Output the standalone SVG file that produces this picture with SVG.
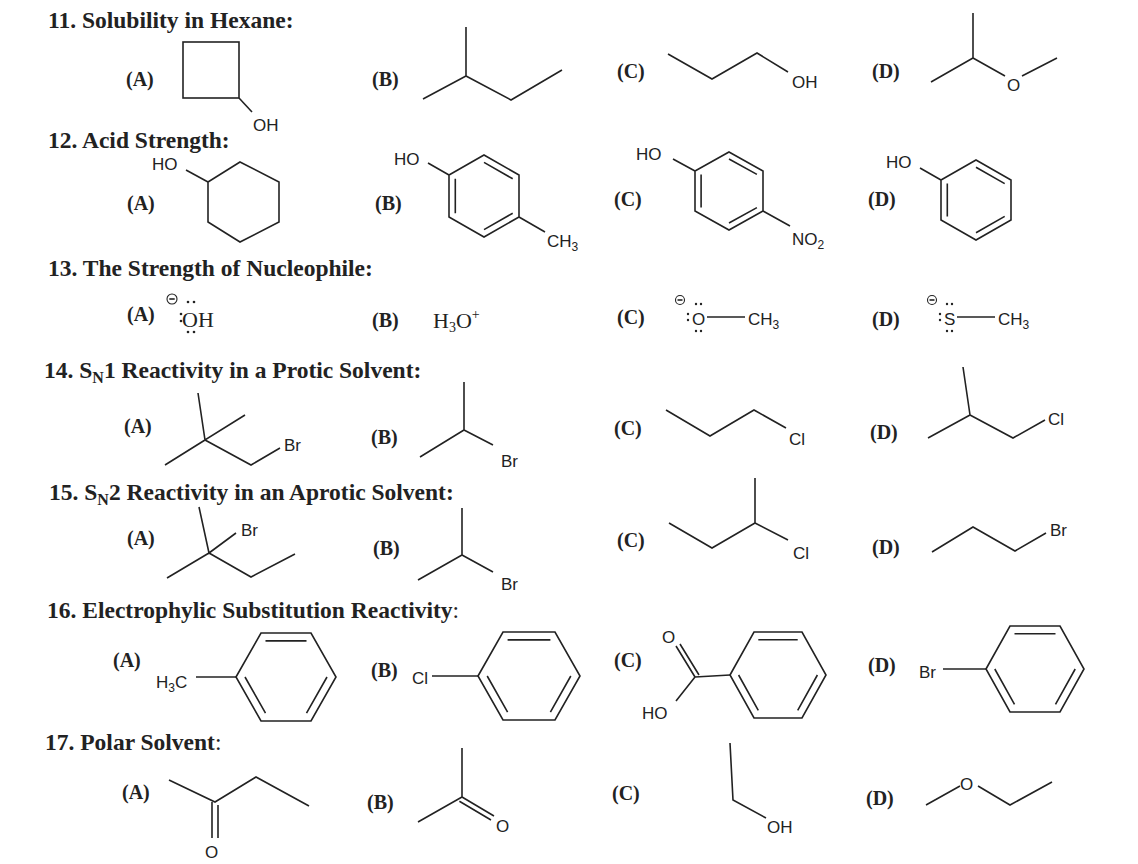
<svg xmlns="http://www.w3.org/2000/svg" width="1138" height="864" viewBox="0 0 1138 864">
<style>
.h{font-family:"Liberation Serif",serif;font-weight:bold;font-size:23.5px;fill:#222}
.l{font-family:"Liberation Serif",serif;font-weight:bold;font-size:20px;fill:#222}
.a{font-family:"Liberation Sans",Arial,sans-serif;font-size:17px;fill:#222}
.s{font-family:"Liberation Serif",serif;font-size:22px;fill:#222}
path,polygon,line{fill:none;stroke:#222;stroke-width:1.6}
.d{fill:#222;stroke:none}
.m{fill:none;stroke:#222;stroke-width:1.1}
</style>
<rect width="1138" height="864" fill="#fff"/>
<text class="h" x="48" y="28">11. Solubility in Hexane:</text>
<text class="h" x="48" y="148">12. Acid Strength:</text>
<text class="h" x="48" y="276">13. The Strength of Nucleophile:</text>
<text class="h" x="44" y="378">14. S<tspan font-size="16" dy="5">N</tspan><tspan dy="-5">1 Reactivity in a Protic Solvent:</tspan></text>
<text class="h" x="49" y="500">15. S<tspan font-size="16" dy="5">N</tspan><tspan dy="-5">2 Reactivity in an Aprotic Solvent:</tspan></text>
<text class="h" x="47" y="618">16. Electrophylic Substitution Reactivity<tspan font-weight="normal">:</tspan></text>
<text class="h" x="45" y="750">17. Polar Solvent<tspan font-weight="normal">:</tspan></text>

<!-- Q11 -->
<g id="q11a"><text class="l" x="126" y="86">(A)</text><rect x="183" y="42" width="56" height="56" fill="none" stroke="#222" stroke-width="1.6"/><path d="M239 98L252 112"/><text class="a" x="253" y="131">OH</text></g>
<g id="q11b"><text class="l" x="372" y="86">(B)</text><path d="M423 99L466 76L466 27M466 76L511 100L562 70"/></g>
<g id="q11c"><text class="l" x="617" y="78">(C)</text><path d="M668 54L712 79L757 53L788 72"/><text class="a" x="792" y="88">OH</text></g>
<g id="q11d"><text class="l" x="872" y="78">(D)</text><path d="M931 82L973 58L973 13M973 58L1005 76M1022 76L1057 58"/><text class="a" x="1007" y="91">O</text></g>

<!-- Q12 -->
<g id="q12a"><text class="l" x="127" y="210">(A)</text><polygon points="240,162 279,182 279,222 240,242 208,222 208,182"/><path d="M208 182L186 170"/><text class="a" x="152" y="170">HO</text></g>
<g id="q12b"><text class="l" x="375" y="210">(B)</text><polygon points="484,155 519,175 519,217 484,237 449,217 449,175"/><path d="M455.3 213.2L455.3 178.8M484 162.4L512.7 178.8M512.7 213.2L484 229.6M449 175L428 163"/><path d="M519 217L545 232"/><text class="a" x="394" y="165">HO</text><text class="a" x="547" y="247">CH<tspan font-size="12" dy="4">3</tspan></text></g>
<g id="q12c"><text class="l" x="614" y="206">(C)</text><polygon points="729,152 763,171 763,211 729,230 695,211 695,171"/><path d="M701.1 207.6L701.1 174.6M729 159L756.9 174.4M756.9 207.6L729 223M695 171L673 159M763 211L790 226"/><text class="a" x="636" y="160">HO</text><text class="a" x="792" y="245">NO<tspan font-size="12" dy="4">2</tspan></text></g>
<g id="q12d"><text class="l" x="868" y="206">(D)</text><polygon points="976,160 1011,180 1011,220 976,240 941,220 941,180"/><path d="M947.3 216.4L947.3 183.6M976 167.2L1004.7 183.6M1004.7 216.4L976 232.8M941 180L920 168"/><text class="a" x="886" y="168">HO</text></g>

<!-- Q13 -->
<g id="q13a"><text class="l" x="127" y="321">(A)</text><circle class="m" cx="172" cy="299" r="5"/><path d="M169.3 299H174.7" stroke-width="1.1"/><circle class="d" cx="181" cy="314" r="1.3"/><circle class="d" cx="181" cy="321" r="1.3"/><circle class="d" cx="188" cy="302" r="1.3"/><circle class="d" cx="194" cy="302" r="1.3"/><circle class="d" cx="188" cy="332" r="1.3"/><circle class="d" cx="194" cy="332" r="1.3"/><text class="s" x="182" y="327">OH</text></g>
<g id="q13b"><text class="l" x="372" y="327">(B)</text><text class="s" x="433" y="328">H<tspan font-size="14" dy="4">3</tspan><tspan dy="-4">O</tspan><tspan font-size="14" dy="-9">+</tspan></text></g>
<g id="q13c"><text class="l" x="617" y="324">(C)</text><circle class="m" cx="680" cy="300" r="4.5"/><path d="M677.5 300H682.5" stroke-width="1.1"/><circle class="d" cx="688" cy="314" r="1.2"/><circle class="d" cx="688" cy="320" r="1.2"/><circle class="d" cx="696" cy="304" r="1.2"/><circle class="d" cx="701" cy="304" r="1.2"/><circle class="d" cx="696" cy="331" r="1.2"/><circle class="d" cx="701" cy="331" r="1.2"/><text class="a" x="692" y="325">O</text><path d="M707 317H745"/><text class="a" x="748" y="325">CH<tspan font-size="12" dy="4">3</tspan></text></g>
<g id="q13d"><text class="l" x="872" y="326">(D)</text><circle class="m" cx="932" cy="300" r="4.5"/><path d="M929.5 300H934.5" stroke-width="1.1"/><circle class="d" cx="940" cy="314" r="1.2"/><circle class="d" cx="940" cy="320" r="1.2"/><circle class="d" cx="947" cy="304" r="1.2"/><circle class="d" cx="952" cy="304" r="1.2"/><circle class="d" cx="947" cy="331" r="1.2"/><circle class="d" cx="952" cy="331" r="1.2"/><text class="a" x="944" y="325">S</text><path d="M957 317H995"/><text class="a" x="998" y="325">CH<tspan font-size="12" dy="4">3</tspan></text></g>

<!-- Q14 -->
<g id="q14a"><text class="l" x="124" y="433">(A)</text><path d="M198 393L205 440L245 415M165 465L205 440L251 465L280 448"/><text class="a" x="284" y="451">Br</text></g>
<g id="q14b"><text class="l" x="371" y="444">(B)</text><path d="M420 457L464 430L464 382M464 430L493 445"/><text class="a" x="501" y="467">Br</text></g>
<g id="q14c"><text class="l" x="614" y="435">(C)</text><path d="M666 410L710 436L754 410L786 428"/><text class="a" x="789" y="445">Cl</text></g>
<g id="q14d"><text class="l" x="870" y="439">(D)</text><path d="M928 438L970 415L963 367M970 415L1013 438L1045 420"/><text class="a" x="1048" y="425">Cl</text></g>

<!-- Q15 -->
<g id="q15a"><text class="l" x="127" y="545">(A)</text><path d="M199 507L209 553L236 533M167 578L209 553L251 577L295 554"/><text class="a" x="241" y="536">Br</text></g>
<g id="q15b"><text class="l" x="373" y="555">(B)</text><path d="M418 580L462 555L462 508M462 555L493 572"/><text class="a" x="501" y="590">Br</text></g>
<g id="q15c"><text class="l" x="617" y="547">(C)</text><path d="M669 523L712 548L755 523L755 478M755 523L788 540"/><text class="a" x="793" y="559">Cl</text></g>
<g id="q15d"><text class="l" x="872" y="554">(D)</text><path d="M932 552L973 527L1015 551L1046 533"/><text class="a" x="1050" y="536">Br</text></g>

<!-- Q16 -->
<g id="q16a"><text class="l" x="113" y="667">(A)</text><text class="a" x="156" y="688">H<tspan font-size="12" dy="4">3</tspan><tspan dy="-4">C</tspan></text><path d="M196 677H236"/><polygon points="236,677 261,633 311,633 336,677 311,721 261,721"/><path d="M265.5 640.9H306.5M245 677L265.5 713.1M327 677L306.5 713.1"/></g>
<g id="q16b"><text class="l" x="371" y="677">(B)</text><text class="a" x="412" y="684">Cl</text><path d="M432 676H478"/><polygon points="478,676 503,632 555,632 580,676 555,720 503,720"/><path d="M507.6 639.9H550.4M487.2 676L507.6 712.1M570.8 676L550.4 712.1"/></g>
<g id="q16c"><text class="l" x="614" y="667">(C)</text><polygon points="730,675 754,632 802,632 826,675 802,718 754,718"/><path d="M758.3 639.7H797.7M738.6 675L758.3 710.3M817.4 675L797.7 710.3M695 677L730 675M695 677L676 646M699 675L680 644M695 677L676 701"/><text class="a" x="662" y="643">O</text><text class="a" x="642" y="719">HO</text></g>
<g id="q16d"><text class="l" x="868" y="672">(D)</text><text class="a" x="919" y="678">Br</text><path d="M943 669H986"/><polygon points="986,669 1010,626 1060,626 1084,669 1060,712 1010,712"/><path d="M1014.5 633.7H1055.5M994.8 669L1014.5 704.3M1075.2 669L1055.5 704.3"/></g>

<!-- Q17 -->
<g id="q17a"><text class="l" x="122" y="799">(A)</text><path d="M169 780L215 802L256 777L309 806M212 802V838M218 805V838"/><text class="a" x="205" y="858">O</text></g>
<g id="q17b"><text class="l" x="367" y="809">(B)</text><path d="M418 822L462 797L462 748M462 797L494 816M459.4 801.3L491 820"/><text class="a" x="496" y="832">O</text></g>
<g id="q17c"><text class="l" x="612" y="800">(C)</text><path d="M730 743L733 800L766 818"/><text class="a" x="767" y="833">OH</text></g>
<g id="q17d"><text class="l" x="866" y="805">(D)</text><path d="M926 805L960 786M978 786L1010 805L1052 782"/><text class="a" x="960" y="790">O</text></g>
</svg>
